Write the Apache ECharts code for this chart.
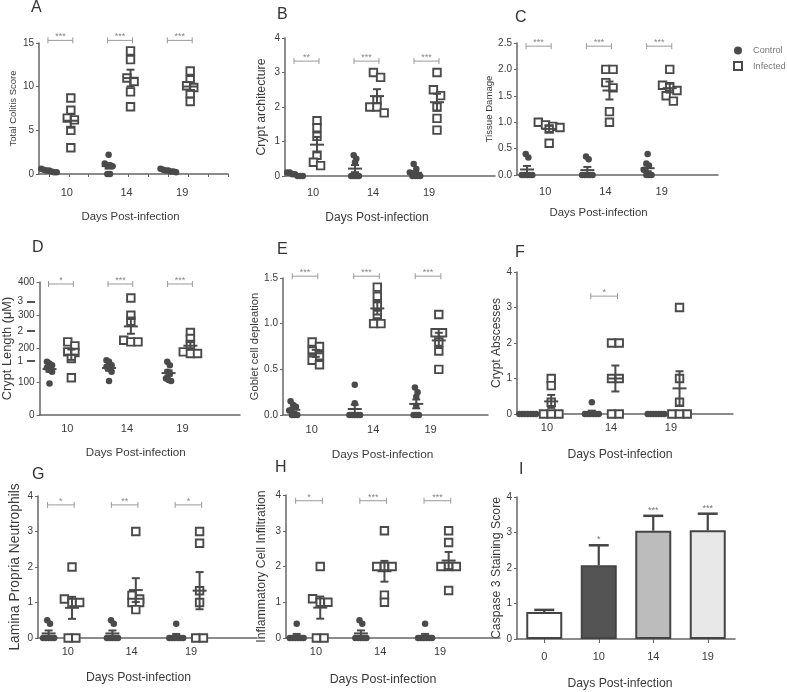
<!DOCTYPE html>
<html>
<head>
<meta charset="utf-8">
<script src="https://cdn.jsdelivr.net/npm/echarts@6.0.0/dist/echarts.min.js"></script>
<style>
  html, body { margin: 0; padding: 0; background: #fff; }
  #chart { width: 787px; height: 692px; }
</style>
</head>
<body>
<div id="chart"></div>
<script>
// days post-infection, used as group labels
const days = ['10', '14', '19'];

// A - total colitis score (control n=7, infected n=6 per day)
const colitisCtrl = [[0.6, 0.5, 0.4, 0.4, 0.3, 0.2, 0.2], [2.2, 1.2, 1.0, 1.0, 0.9, 0, 0], [0.6, 0.5, 0.4, 0.4, 0.3, 0.3, 0.2]];
const colitisInf = [[8.7, 7.3, 6.4, 6.2, 5.0, 3.0], [14.1, 13.1, 11.0, 10.6, 9.4, 7.7], [11.8, 10.8, 10.1, 9.9, 9.2, 8.3]];
const colitisStars = ['***', '***', '***'];

// B - crypt architecture
const cryptCtrl = [[0.1, 0.1, 0.05, 0.05, 0, 0, 0], [0.6, 0.5, 0.4, 0, 0, 0, 0], [0.35, 0.2, 0.1, 0, 0, 0, 0]];
const cryptInf = [[1.6, 1.4, 1.15, 0.6, 0.4, 0.3], [3.0, 2.86, 2.2, 2.0, 2.0, 1.83], [3.0, 2.5, 2.33, 2.0, 1.67, 1.33]];
const cryptStars = ['**', '***', '***'];

// C - tissue damage
const tissueCtrl = [[0.4, 0.33, 0, 0, 0, 0, 0], [0.35, 0.3, 0, 0, 0, 0, 0], [0.4, 0.22, 0.18, 0.1, 0, 0, 0]];
const tissueInf = [[1.0, 0.95, 0.92, 0.9, 0.87, 0.6], [2.0, 2.0, 1.75, 1.65, 1.2, 1.0], [2.0, 1.7, 1.67, 1.6, 1.5, 1.4]];
const tissueStars = ['***', '***', '***'];

// D - crypt length (uM)
const lengthCtrl = [[160, 155, 150, 142, 135, 130, 95], [165, 160, 150, 145, 138, 130, 102], [160, 150, 130, 125, 110, 105, 102]];
const lengthInf = [[220, 208, 190, 188, 170, 112], [352, 300, 282, 225, 220, 220], [248, 230, 212, 190, 185, 185]];
const lengthStars = ['*', '***', '***'];
// odd second set of tick labels on the D axis
const lengthSubTicks = [1, 2, 3];

// E - goblet cell depletion
const gobletCtrl = [[0.15, 0.11, 0.09, 0.05, 0, 0, 0], [0.33, 0.13, 0, 0, 0, 0, 0], [0.3, 0.25, 0.2, 0.1, 0, 0, 0]];
const gobletInf = [[0.8, 0.75, 0.7, 0.65, 0.6, 0.55], [1.4, 1.3, 1.2, 1.1, 1.0, 1.0], [1.1, 0.9, 0.9, 0.8, 0.7, 0.5]];
const gobletStars = ['***', '***', '***'];

// F - crypt abscesses
const abscessCtrl = [[0, 0, 0, 0, 0, 0, 0], [0.33, 0, 0, 0, 0, 0, 0], [0, 0, 0, 0, 0, 0, 0]];
const abscessInf = [[1.0, 0.8, 0.33, 0, 0, 0], [2, 2, 1, 1, 0, 0], [3, 1, 0.33, 0, 0, 0]];
const abscessStars = ['', '*', ''];

// G - lamina propria neutrophils
const neutroCtrl = [[0.5, 0.4, 0, 0, 0, 0, 0], [0.5, 0.4, 0, 0, 0, 0, 0], [0.4, 0, 0, 0, 0, 0, 0]];
const neutroInf = [[2, 1.1, 1, 1, 0, 0], [3, 1.2, 1.1, 1, 1, 0.8], [3, 2.67, 1.33, 1, 0, 0]];
const neutroStars = ['*', '**', '*'];

// H - inflammatory cell infiltration
const inflamCtrl = [[0.4, 0, 0, 0, 0, 0, 0], [0.5, 0.4, 0, 0, 0, 0, 0], [0.4, 0, 0, 0, 0, 0, 0]];
const inflamInf = [[2, 1.1, 1, 1, 0, 0], [3, 2, 2, 2, 1.2, 1], [3, 2.67, 2, 2, 2, 1.33]];
const inflamStars = ['*', '***', '***'];

// I - caspase 3 staining (bars, mean + SEM)
const caspaseDays = ['0', '10', '14', '19'];
const caspaseMean = [0.76, 2.08, 3.05, 3.06];
const caspaseSem = [0.06, 0.56, 0.42, 0.47];
const caspaseStars = ['', '*', '***', '***'];

// x slots of the groups on the scatter panels
const ctrlX = [1, 4, 7];
const infX = [2.1, 5.1, 8.1];
const labelX = [1.9, 4.9, 7.7];

const ink = '#4a4a4a';
const axisColor = '#666';
const textColor = '#3a3a3a';

const panels = [
  { title: 'A', yName: 'Total Colitis Score', ctrl: colitisCtrl, inf: colitisInf, stars: colitisStars, yMax: 15, yStep: 5, dec: 0, sigY: 15.3 },
  { title: 'B', yName: 'Crypt architecture', ctrl: cryptCtrl, inf: cryptInf, stars: cryptStars, yMax: 4, yStep: 1, dec: 0, sigY: 3.33 },
  { title: 'C', yName: 'Tissue Damage', ctrl: tissueCtrl, inf: tissueInf, stars: tissueStars, yMax: 2.5, yStep: 0.5, dec: 1, sigY: 2.44 },
  { title: 'D', yName: 'Crypt Length (μM)', ctrl: lengthCtrl, inf: lengthInf, stars: lengthStars, yMax: 400, yStep: 100, dec: 0, sigY: 394 },
  { title: 'E', yName: 'Goblet cell depleation', ctrl: gobletCtrl, inf: gobletInf, stars: gobletStars, yMax: 1.5, yStep: 0.5, dec: 1, sigY: 1.52 },
  { title: 'F', yName: 'Crypt Abscesses', ctrl: abscessCtrl, inf: abscessInf, stars: abscessStars, yMax: 4, yStep: 1, dec: 0, sigY: 3.32 },
  { title: 'G', yName: 'Lamina Propria Neutrophils', ctrl: neutroCtrl, inf: neutroInf, stars: neutroStars, yMax: 4, yStep: 1, dec: 0, sigY: 3.75 },
  { title: 'H', yName: 'Inflammatory Cell Infiltration', ctrl: inflamCtrl, inf: inflamInf, stars: inflamStars, yMax: 4, yStep: 1, dec: 0, sigY: 3.84 }
];

// pixel frames of each panel (grid rect, name sizes and gaps)
const frames = [
  { left: 39, top: 43, width: 189, height: 131, xMax: 10, yNameSize: 9.5, yNameGap: 21, xNameSize: 11.4, xNameGap: 37, xNameDx: 3, labelGap: 13, tx: 31, ty: 0 },
  { left: 285, top: 38, width: 210, height: 138, xMax: 11, yNameSize: 12.3, yNameGap: 17, xNameSize: 12, xNameGap: 36, xNameDx: 13, labelGap: 11, tx: 277, ty: 7 },
  { left: 517, top: 43, width: 201, height: 132, xMax: 10.5, yNameSize: 9.6, yNameGap: 19, xNameSize: 11.4, xNameGap: 32, xNameDx: 19, labelGap: 11, tx: 515, ty: 10 },
  { left: 35, top: 282, width: 205, height: 133, xMax: 10.6, yNameSize: 12.8, yNameGap: 23, xNameSize: 11.6, xNameGap: 32, xNameDx: 4, labelGap: 8, tx: 32, ty: 240 },
  { left: 283, top: 278, width: 205, height: 137, xMax: 10.5, yNameSize: 11.2, yNameGap: 20, xNameSize: 11.8, xNameGap: 34, xNameDx: 3, labelGap: 9, tx: 277, ty: 242 },
  { left: 517, top: 272, width: 216, height: 142, xMax: 10.6, yNameSize: 12, yNameGap: 13, xNameSize: 12.2, xNameGap: 35, xNameDx: 5, labelGap: 8, tx: 515, ty: 245 },
  { left: 38, top: 496, width: 219, height: 142, xMax: 10.8, yNameSize: 13.8, yNameGap: 16, xNameSize: 12.2, xNameGap: 34, xNameDx: 9, labelGap: 8, tx: 32, ty: 467 },
  { left: 286, top: 495, width: 214, height: 143, xMax: 10.5, yNameSize: 12.3, yNameGap: 18, xNameSize: 12.4, xNameGap: 36, xNameDx: 10, labelGap: 8, tx: 275, ty: 460 },
  { left: 517, top: 497, width: 218, height: 142, yNameSize: 12.3, yNameGap: 9, xNameSize: 12.2, xNameGap: 39, xNameDx: 6, labelGap: 12, tx: 519, ty: 462 }
];

function mean(a) { return a.reduce((s, v) => s + v, 0) / a.length; }
function sem(a) {
  const m = mean(a);
  const sd = Math.sqrt(a.reduce((s, v) => s + (v - m) * (v - m), 0) / (a.length - 1));
  return sd / Math.sqrt(a.length);
}

// spread points that sit at (nearly) the same level, like a column scatter
function swarm(values, cx, tol, dx) {
  const sorted = values.slice().sort((a, b) => b - a);
  const clusters = [];
  sorted.forEach(v => {
    const last = clusters[clusters.length - 1];
    if (last && Math.abs(last[0] - v) < tol) last.push(v);
    else clusters.push([v]);
  });
  const pts = [];
  clusters.forEach(c => {
    c.forEach((v, j) => pts.push([cx + (j - (c.length - 1) / 2) * dx, v]));
  });
  return pts;
}

function seg(x1, y1, x2, y2, w, color) {
  return { type: 'line', shape: { x1, y1, x2, y2 }, style: { stroke: color || ink, lineWidth: w || 2 } };
}

const grid = [], xAxis = [], yAxis = [], series = [], title = [];

panels.forEach((p, k) => {
  const f = frames[k];
  grid.push({ left: f.left, top: f.top, width: f.width, height: f.height });
  title.push({ text: p.title, left: f.tx, top: f.ty, padding: 0, textStyle: { fontSize: 16, fontWeight: 'normal', color: '#333' } });
  xAxis.push({
    gridIndex: k, type: 'value', min: 0.5, max: f.xMax,
    name: 'Days Post-infection', nameLocation: 'middle', nameGap: f.xNameGap,
    nameTextStyle: { fontSize: f.xNameSize, color: textColor, padding: [0, 2 * f.xNameDx, 0, 0] },
    axisLine: { onZero: false, lineStyle: { color: axisColor, width: 1.5 } },
    axisTick: k === 0
      ? { show: true, length: 3, customValues: [1, 2, 3, 4, 5, 6, 7, 8, 9, 10], lineStyle: { color: axisColor } }
      : { show: false },
    axisLabel: {
      customValues: labelX, margin: f.labelGap, fontSize: 11, color: textColor,
      formatter: v => days[labelX.indexOf(v)]
    },
    splitLine: { show: false }
  });
  yAxis.push({
    gridIndex: k, type: 'value', min: 0, max: p.yMax, interval: p.yStep,
    name: p.yName, nameLocation: 'middle', nameGap: f.yNameGap,
    nameTextStyle: { fontSize: f.yNameSize, color: textColor },
    axisLine: { show: true, onZero: false, lineStyle: { color: axisColor, width: 1.5 } },
    axisTick: { show: true, length: 3, lineStyle: { color: axisColor } },
    axisLabel: { fontSize: 10, color: textColor, margin: 5, formatter: v => v.toFixed(p.dec) },
    splitLine: { show: false }
  });

  const tolC = p.yMax * 0.045;
  const ctrlPts = [], infPts = [], bars = [];
  days.forEach((d, g) => {
    ctrlPts.push(...swarm(p.ctrl[g], ctrlX[g], tolC, 0.13));
    infPts.push(...swarm(p.inf[g], infX[g], tolC, 0.36));
    bars.push([ctrlX[g], mean(p.ctrl[g]), sem(p.ctrl[g])]);
    bars.push([infX[g], mean(p.inf[g]), sem(p.inf[g])]);
  });

  series.push({
    name: 'Control', type: 'scatter', xAxisIndex: k, yAxisIndex: k,
    symbol: 'circle', symbolSize: 6.5, itemStyle: { color: ink, opacity: 1 },
    data: ctrlPts, z: 3
  });
  series.push({
    name: 'Infected', type: 'scatter', xAxisIndex: k, yAxisIndex: k,
    symbol: 'rect', symbolSize: 7.5, itemStyle: { color: '#fff', borderColor: ink, borderWidth: 1.9, opacity: 1 },
    data: infPts, z: 3
  });
  series.push({
    type: 'custom', xAxisIndex: k, yAxisIndex: k, z: 4, silent: true,
    data: bars,
    renderItem: (params, api) => {
      const x = api.value(0), m = api.value(1), s = api.value(2);
      const c = api.coord([x, m]);
      const hi = api.coord([x, m + s]);
      const lo = api.coord([x, m - s]);
      return {
        type: 'group', children: [
          seg(c[0] - 7, c[1], c[0] + 7, c[1]),
          seg(c[0], hi[1], c[0], lo[1]),
          seg(c[0] - 4, hi[1], c[0] + 4, hi[1]),
          seg(c[0] - 4, lo[1], c[0] + 4, lo[1])
        ]
      };
    }
  });

  // significance brackets between control and infected of a day
  const sigText = [], sigData = [];
  p.stars.forEach((s, g) => {
    if (!s) return;
    sigText.push(s);
    sigData.push([ctrlX[g] - 0.05, infX[g] + 0.1, p.sigY]);
  });
  series.push({
    type: 'custom', xAxisIndex: k, yAxisIndex: k, z: 2, silent: true,
    data: sigData,
    renderItem: (params, api) => {
      const a = api.coord([api.value(0), api.value(2)]);
      const b = api.coord([api.value(1), api.value(2)]);
      return {
        type: 'group', children: [
          seg(a[0], a[1], b[0], b[1], 1, '#9a9a9a'),
          seg(a[0], a[1] - 3, a[0], a[1] + 3, 1, '#9a9a9a'),
          seg(b[0], b[1] - 3, b[0], b[1] + 3, 1, '#9a9a9a'),
          {
            type: 'text',
            style: {
              text: sigText[params.dataIndex], x: (a[0] + b[0]) / 2, y: a[1] + 1,
              align: 'center', verticalAlign: 'bottom', fontSize: 9, fill: '#888'
            }
          }
        ]
      };
    }
  });
});

// I - bar chart
const fI = frames[8];
grid.push({ left: fI.left, top: fI.top, width: fI.width, height: fI.height });
title.push({ text: 'I', left: fI.tx, top: fI.ty, padding: 0, textStyle: { fontSize: 16, fontWeight: 'normal', color: '#333' } });
xAxis.push({
  gridIndex: 8, type: 'category', data: caspaseDays,
  name: 'Days Post-infection', nameLocation: 'middle', nameGap: fI.xNameGap,
  nameTextStyle: { fontSize: fI.xNameSize, color: textColor, padding: [0, 2 * fI.xNameDx, 0, 0] },
  axisLine: { onZero: false, lineStyle: { color: axisColor, width: 1.5 } },
  axisTick: { show: true, alignWithLabel: true, length: 4, lineStyle: { color: axisColor } },
  axisLabel: { margin: fI.labelGap, fontSize: 11, color: textColor }
});
yAxis.push({
  gridIndex: 8, type: 'value', min: 0, max: 4, interval: 1,
  name: 'Caspase 3 Staining Score', nameLocation: 'middle', nameGap: fI.yNameGap,
  nameTextStyle: { fontSize: fI.yNameSize, color: textColor },
  axisLine: { show: true, onZero: false, lineStyle: { color: axisColor, width: 1.5 } },
  axisTick: { show: true, length: 3, lineStyle: { color: axisColor } },
  axisLabel: { fontSize: 10, color: textColor, margin: 5 },
  splitLine: { show: false }
});
const caspaseFill = ['#ffffff', '#545454', '#bcbcbc', '#e8e8e8'];
series.push({
  type: 'bar', xAxisIndex: 8, yAxisIndex: 8, barWidth: 36, silent: true,
  itemStyle: { borderColor: '#444', borderWidth: 2 },
  data: caspaseMean.map((v, i) => ({ value: v, itemStyle: { color: caspaseFill[i] } }))
});
series.push({
  type: 'custom', xAxisIndex: 8, yAxisIndex: 8, z: 4, silent: true,
  data: caspaseMean.map((v, i) => [i, v, caspaseSem[i]]),
  renderItem: (params, api) => {
    const c = api.coord([api.value(0), api.value(1)]);
    const hi = api.coord([api.value(0), api.value(1) + api.value(2)]);
    return {
      type: 'group', children: [
        seg(c[0], c[1], c[0], hi[1], 2.2, '#444'),
        seg(c[0] - 10, hi[1], c[0] + 10, hi[1], 2.5, '#444'),
        {
          type: 'text',
          style: {
            text: caspaseStars[params.dataIndex], x: c[0], y: hi[1] - 1,
            align: 'center', verticalAlign: 'bottom', fontSize: 9, fill: '#777'
          }
        }
      ]
    };
  }
});

// extra "1 2 3" labels drawn over the D axis, on a twin grid
const fD = frames[3];
grid.push({ left: fD.left, top: fD.top, width: fD.width, height: fD.height });
xAxis.push({ gridIndex: 9, type: 'value', min: 0, max: 1, show: false });
yAxis.push({
  gridIndex: 9, type: 'value', min: -0.8, max: 3.644,
  axisLine: { show: false },
  axisTick: { show: true, length: 8, customValues: lengthSubTicks, lineStyle: { color: '#555', width: 2 } },
  axisLabel: { customValues: lengthSubTicks, margin: 12, fontSize: 10, color: textColor },
  splitLine: { show: false }
});

const myChart = echarts.init(document.getElementById('chart'));
myChart.setOption({
  animation: false,
  backgroundColor: '#fff',
  textStyle: { fontFamily: 'Liberation Sans, Arial, sans-serif' },
  title: title,
  legend: {
    data: [{ name: 'Control', icon: 'circle' }, { name: 'Infected', icon: 'rect' }],
    orient: 'vertical', left: 733, top: 46, padding: 0, itemWidth: 8, itemHeight: 8, itemGap: 6,
    selectedMode: false,
    textStyle: { fontSize: 9.2, color: '#777', padding: [0, 0, 0, 6] }
  },
  grid: grid,
  xAxis: xAxis,
  yAxis: yAxis,
  series: series
});
window.onresize = function () {
  myChart.resize();
};
</script>
</body>
</html>
